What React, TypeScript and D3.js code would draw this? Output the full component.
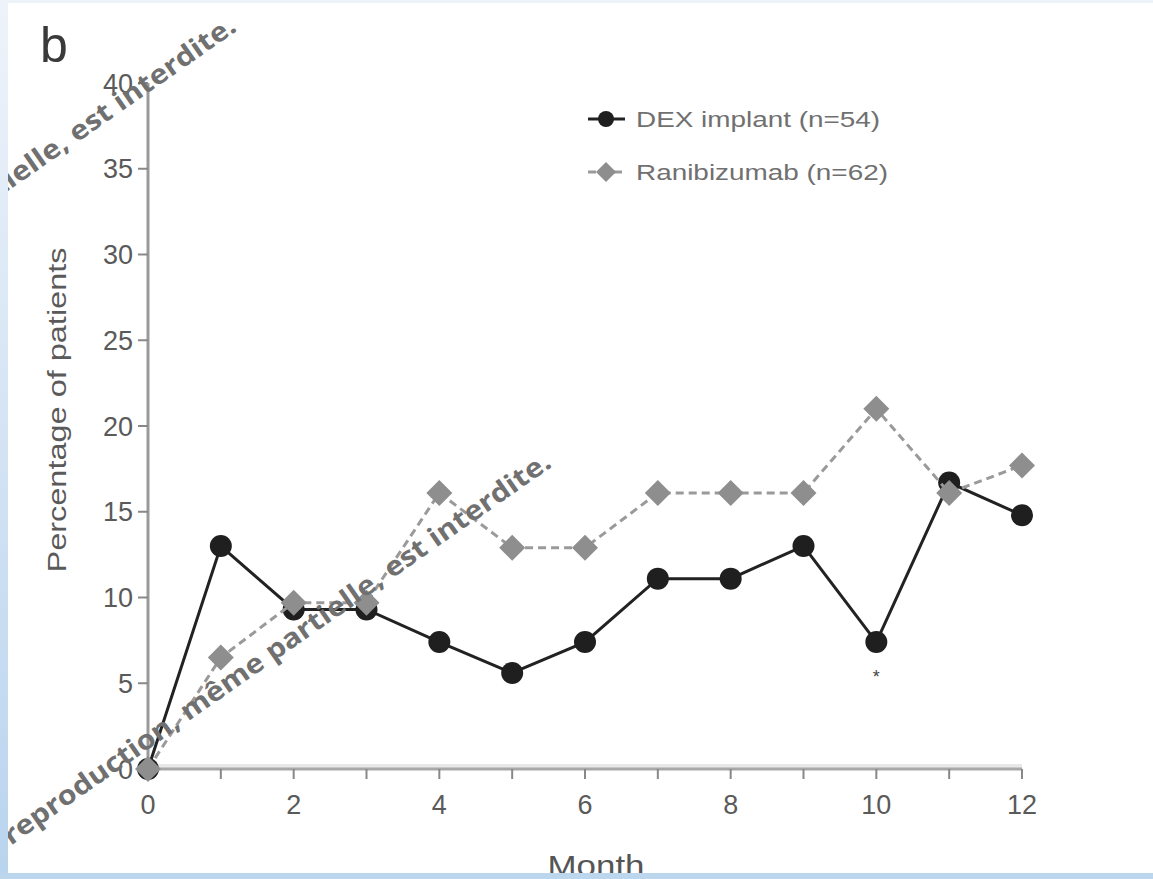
import React from "react";
import * as d3 from "d3";

const months = [0, 1, 2, 3, 4, 5, 6, 7, 8, 9, 10, 11, 12];
const dexValues = [0, 13.0, 9.3, 9.3, 7.4, 5.6, 7.4, 11.1, 11.1, 13.0, 7.4, 16.7, 14.8];
const raniValues = [0, 6.5, 9.7, 9.7, 16.1, 12.9, 12.9, 16.1, 16.1, 16.1, 21.0, 16.1, 17.7];
const xTickLabels = [0, 2, 4, 6, 8, 10, 12];
const yTickValues = [0, 5, 10, 15, 20, 25, 30, 35, 40];
const seriesNames = ["DEX implant (n=54)", "Ranibizumab (n=62)"];
const significantMonths = [10];
const watermark = "reproduction, même partielle, est interdite.";

const W = 1153;
const H = 879;

export default function App() {
  const x = d3.scaleLinear().domain([0, 12]).range([148, 1022]);
  const y = d3.scaleLinear().domain([0, 40]).range([769, 83]);
  const line = d3
    .line<number>()
    .x((_, i) => x(months[i]))
    .y((d) => y(d));

  const diamond = (cx: number, cy: number, r: number) =>
    `M${cx},${cy - r}L${cx + r},${cy}L${cx},${cy + r}L${cx - r},${cy}Z`;

  const font = "'Liberation Sans', Arial, sans-serif";
  const wmFont = "'Open Sans', 'Noto Sans', sans-serif";

  return (
    <svg
      width={W}
      height={H}
      style={{ position: "absolute", left: 0, top: 0, display: "block" }}
    >
      <defs>
        <linearGradient id="leftGrad" x1="0" y1="0" x2="0" y2="1">
          <stop offset="0" stopColor="#eef3fa" />
          <stop offset="1" stopColor="#b9d4ee" />
        </linearGradient>
      </defs>
      <rect x={0} y={0} width={W} height={H} fill="#ffffff" />
      <rect x={0} y={0} width={W} height={3} fill="#eef3fa" />

      {/* panel letter */}
      <text x={40} y={62} fontFamily={font} fontSize={50} fill="#3a3a3a">
        b
      </text>

      {/* y axis */}
      <line x1={148} x2={148} y1={y(40)} y2={y(0)} stroke="#9a9a9a" strokeWidth={3} />
      {yTickValues.map((v) => (
        <g key={"yt" + v}>
          <line x1={138} x2={148} y1={y(v)} y2={y(v)} stroke="#888" strokeWidth={2} />
          <text
            x={133}
            y={y(v)}
            dy="0.36em"
            textAnchor="end"
            fontFamily={font}
            fontSize={27}
            fill="#5a5a5a"
          >
            {v}
          </text>
        </g>
      ))}

      {/* x axis */}
      <rect x={148} y={764} width={1022 - 148} height={4} fill="#e8e8e8" />
      <line x1={148} x2={1022} y1={769} y2={769} stroke="#a8a8a8" strokeWidth={3} />
      {months.map((m) => (
        <line
          key={"xt" + m}
          x1={x(m)}
          x2={x(m)}
          y1={769}
          y2={779}
          stroke="#888"
          strokeWidth={2}
        />
      ))}
      {xTickLabels.map((m) => (
        <text
          key={"xl" + m}
          x={x(m)}
          y={814}
          textAnchor="middle"
          fontFamily={font}
          fontSize={27}
          fill="#5a5a5a"
        >
          {m}
        </text>
      ))}

      {/* axis titles */}
      <text
        transform={`translate(66,410) rotate(-90)`}
        textAnchor="middle"
        fontFamily={font}
        fontSize={26}
        fill="#5a5a5a"
        textLength={325}
        lengthAdjust="spacingAndGlyphs"
      >
        Percentage of patients
      </text>
      <text
        x={596}
        y={876}
        textAnchor="middle"
        fontFamily={font}
        fontSize={30}
        fill="#555"
        textLength={97}
        lengthAdjust="spacingAndGlyphs"
      >
        Month
      </text>

      {/* DEX series */}
      <path d={line(dexValues) || ""} fill="none" stroke="#222" strokeWidth={3} />
      {dexValues.map((v, i) => (
        <circle key={"dc" + i} cx={x(months[i])} cy={y(v)} r={11} fill="#1f1f1f" />
      ))}

      {/* Ranibizumab series */}
      <path
        d={line(raniValues) || ""}
        fill="none"
        stroke="#9a9a9a"
        strokeWidth={3}
        strokeDasharray="8,5"
      />
      {raniValues.map((v, i) => (
        <path key={"rd" + i} d={diamond(x(months[i]), y(v), 13)} fill="#8e8e8e" />
      ))}

      {/* significance marker */}
      {significantMonths.map((m) => (
        <text
          key={"sig" + m}
          x={x(m)}
          y={y(0) - 86}
          textAnchor="middle"
          fontFamily={font}
          fontSize={18}
          fill="#444"
        >
          *
        </text>
      ))}

      {/* legend */}
      <line x1={588} x2={625} y1={119} y2={119} stroke="#222" strokeWidth={3} />
      <circle cx={606} cy={119} r={8} fill="#1f1f1f" />
      <text
        x={636}
        y={127}
        fontFamily={font}
        fontSize={22}
        fill="#707070"
        textLength={244}
        lengthAdjust="spacingAndGlyphs"
      >
        {seriesNames[0]}
      </text>
      <line
        x1={588}
        x2={625}
        y1={172}
        y2={172}
        stroke="#9a9a9a"
        strokeWidth={3}
        strokeDasharray="8,5"
      />
      <path d={diamond(606, 172, 10)} fill="#8e8e8e" />
      <text
        x={636}
        y={180}
        fontFamily={font}
        fontSize={22}
        fill="#707070"
        textLength={252}
        lengthAdjust="spacingAndGlyphs"
      >
        {seriesNames[1]}
      </text>

      {/* watermarks */}
      <text
        transform="translate(238,30) rotate(-35)"
        textAnchor="end"
        fontFamily={wmFont}
        fontWeight="bold"
        fontSize={27}
        fill="#707070"
        textLength={662}
        lengthAdjust="spacingAndGlyphs"
      >
        {watermark}
      </text>
      <text
        transform="translate(553,466) rotate(-35)"
        textAnchor="end"
        fontFamily={wmFont}
        fontWeight="bold"
        fontSize={27}
        fill="#707070"
        textLength={662}
        lengthAdjust="spacingAndGlyphs"
      >
        {watermark}
      </text>

      {/* frame */}
      <rect x={0} y={0} width={8} height={H} fill="url(#leftGrad)" />
      <rect x={0} y={873} width={W} height={6} fill="#bcd6ee" />
    </svg>
  );
}
